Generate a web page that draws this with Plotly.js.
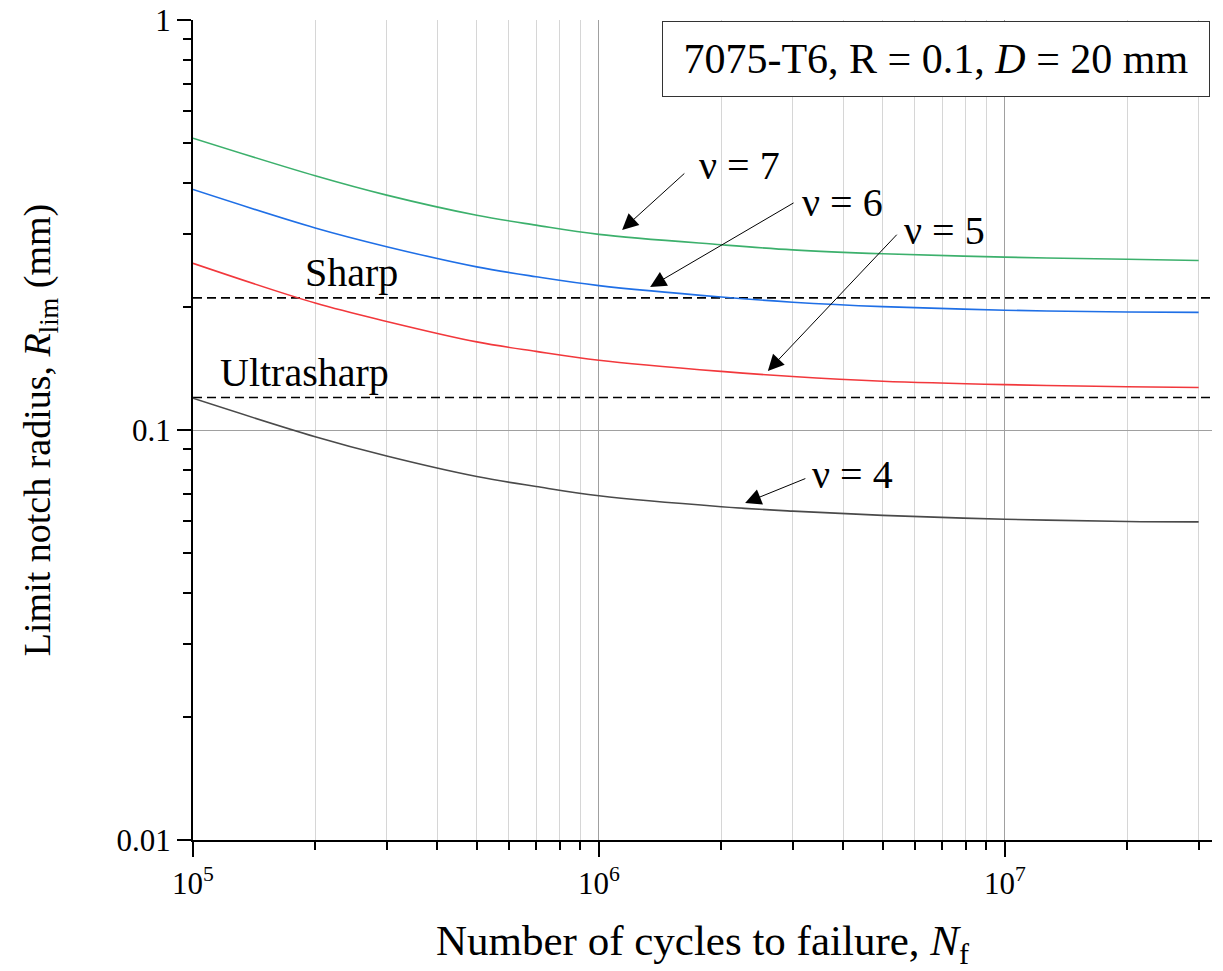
<!DOCTYPE html>
<html>
<head>
<meta charset="utf-8">
<script src="https://cdn.plot.ly/plotly-3.0.1.min.js"></script>
<style>
  html, body { margin: 0; padding: 0; background: #fff; }
  #chart { width: 1223px; height: 971px; }
</style>
</head>
<body>
<div id="chart"></div>
<script>
// Number of cycles to failure
const cycles = [1e5, 2e5, 3e5, 5e5, 7e5, 1e6, 2e6, 3e6, 5e6, 1e7, 2e7, 3e7];

// Limit notch radius (mm) for each exponent nu
const rlimNu7 = [0.515, 0.417, 0.374, 0.334, 0.316, 0.300, 0.283, 0.275, 0.269, 0.264, 0.261, 0.259];
const rlimNu6 = [0.386, 0.311, 0.280, 0.250, 0.2365, 0.225, 0.211, 0.205, 0.200, 0.196, 0.194, 0.1936];
const rlimNu5 = [0.255, 0.204, 0.184, 0.164, 0.1555, 0.148, 0.139, 0.135, 0.1315, 0.129, 0.1275, 0.127];
const rlimNu4 = [0.1195, 0.0963, 0.0864, 0.0770, 0.0728, 0.0691, 0.065, 0.0634, 0.0619, 0.0606, 0.0598, 0.0597];

// Reference notch radii (mm)
const sharpRadius = 0.21;
const ultrasharpRadius = 0.12;

// Axis ticks
const xMajorVals = [1e5, 1e6, 1e7];
const xMajorText = ['10<sup>5</sup>', '10<sup>6</sup>', '10<sup>7</sup>'];
const xMinorVals = [2e5, 3e5, 4e5, 5e5, 6e5, 7e5, 8e5, 9e5, 2e6, 3e6, 4e6, 5e6, 6e6, 7e6, 8e6, 9e6, 2e7, 3e7];
const yMajorVals = [0.01, 0.1, 1];
const yMajorText = ['0.01', '0.1', '1'];
const yMinorVals = [0.02, 0.03, 0.04, 0.05, 0.06, 0.07, 0.08, 0.09, 0.2, 0.3, 0.4, 0.5, 0.6, 0.7, 0.8, 0.9];

const FONT = 'Liberation Serif';
const xRange = [5, 7.51];
const yRange = [-2, 0];

function curve(y, color) {
  return {
    x: cycles, y: y, type: 'scatter', mode: 'lines',
    line: { color: color, width: 1.6, shape: 'spline', smoothing: 1 },
    hoverinfo: 'skip', showlegend: false
  };
}

function refLine(value) {
  return {
    x: [cycles[0], Math.pow(10, xRange[1])], y: [value, value],
    type: 'scatter', mode: 'lines',
    line: { color: '#000', width: 1.6, dash: '9px,5px' },
    hoverinfo: 'skip', showlegend: false
  };
}

const traces = [
  refLine(sharpRadius),
  refLine(ultrasharpRadius),
  curve(rlimNu7, '#3cb06c'),
  curve(rlimNu6, '#1f6fe6'),
  curve(rlimNu5, '#f2383c'),
  curve(rlimNu4, '#4a4a4a')
];

function label(text, x, y) {
  return {
    text: text, x: x, y: y, xref: 'x', yref: 'y',
    xanchor: 'left', yanchor: 'middle', showarrow: false,
    font: { family: FONT, size: 40, color: '#000' }
  };
}

function arrow(xTip, yTip, xTail, yTail) {
  return {
    text: '', x: xTip, y: yTip, xref: 'x', yref: 'y',
    ax: xTail, ay: yTail, axref: 'x', ayref: 'y',
    showarrow: true, arrowhead: 2, arrowsize: 3.2, arrowwidth: 1,
    arrowcolor: '#000', standoff: 0, startstandoff: 0
  };
}

const annotations = [
  label('\u03bd = 7', 6.241, -0.355),
  arrow(6.057, -0.512, 6.214, -0.371),
  label('\u03bd = 6', 6.495, -0.445),
  arrow(6.126, -0.651, 6.483, -0.444),
  label('\u03bd = 5', 6.746, -0.513),
  arrow(6.416, -0.856, 6.737, -0.520),
  label('\u03bd = 4', 6.520, -1.108),
  arrow(6.360, -1.178, 6.512, -1.117),
  label('Sharp', 5.271, -0.615),
  label('Ultrasharp', 5.062, -0.859),
  {
    text: '7075-T6, R = 0.1, <i>D</i> = 20 mm',
    xref: 'paper', yref: 'paper', x: 0.998, y: 0.9985,
    xanchor: 'right', yanchor: 'top', showarrow: false,
    font: { family: FONT, size: 42, color: '#000' },
    bgcolor: '#fff', bordercolor: '#333', borderwidth: 1, borderpad: 10,
    width: 526, height: 54
  }
];

const axisBase = {
  type: 'log', showline: true, linecolor: '#000', linewidth: 2,
  zeroline: false, tickcolor: '#000', tickwidth: 2
};

const layout = {
  width: 1223, height: 971,
  margin: { l: 193, r: 11, t: 20, b: 131 },
  paper_bgcolor: '#fff', plot_bgcolor: '#fff',
  font: { family: FONT, color: '#000' },
  showlegend: false,
  xaxis: Object.assign({}, axisBase, {
    range: xRange, tickmode: 'array', tickvals: xMajorVals, ticktext: xMajorText,
    ticks: 'outside', ticklen: 15, tickfont: { family: FONT, size: 31 },
    showgrid: true, gridcolor: '#a0a0a0', gridwidth: 1,
    minor: { tickmode: 'array', tickvals: xMinorVals, ticks: 'outside', ticklen: 8,
             tickwidth: 2, tickcolor: '#000', showgrid: true, gridcolor: '#d6d6d6', gridwidth: 1 },
    title: { text: 'Number of cycles to failure, <i>N</i><sub>f</sub>',
             font: { family: FONT, size: 43 }, standoff: 38 }
  }),
  yaxis: Object.assign({}, axisBase, {
    range: yRange, tickmode: 'array', tickvals: yMajorVals, ticktext: yMajorText,
    ticks: 'outside', ticklen: 14, tickfont: { family: FONT, size: 31 },
    showgrid: true, gridcolor: '#a0a0a0', gridwidth: 1,
    minor: { tickmode: 'array', tickvals: yMinorVals, ticks: 'outside', ticklen: 8,
             tickwidth: 2, tickcolor: '#000', showgrid: false },
    title: { text: 'Limit notch radius, <i>R</i><sub>lim</sub> (mm)',
             font: { family: FONT, size: 38 }, standoff: 54 }
  }),
  xaxis2: Object.assign({}, axisBase, {
    overlaying: 'x', side: 'top', anchor: 'y',
    range: xRange, tickmode: 'array', tickvals: xMajorVals, showticklabels: false,
    ticks: 'inside', ticklen: 14, showgrid: false,
    minor: { tickmode: 'array', tickvals: xMinorVals, ticks: 'inside', ticklen: 8,
             tickwidth: 2, tickcolor: '#000', showgrid: false }
  }),
  yaxis2: Object.assign({}, axisBase, {
    overlaying: 'y', side: 'right', anchor: 'x',
    range: yRange, tickmode: 'array', tickvals: yMajorVals, showticklabels: false,
    ticks: 'inside', ticklen: 14, showgrid: false,
    minor: { tickmode: 'array', tickvals: yMinorVals, ticks: 'inside', ticklen: 8,
             tickwidth: 2, tickcolor: '#000', showgrid: false }
  }),
  annotations: annotations
};

Plotly.newPlot('chart', traces, layout, { staticPlot: true, displayModeBar: false });
</script>
</body>
</html>
